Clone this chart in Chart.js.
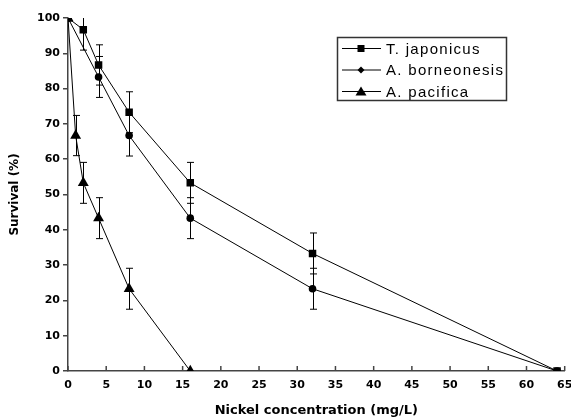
<!DOCTYPE html>
<html>
<head>
<meta charset="utf-8">
<script src="https://cdn.jsdelivr.net/npm/chart.js@4.4.0/dist/chart.umd.min.js"></script>
<style>
  html, body { margin: 0; padding: 0; background: #fff; }
</style>
</head>
<body>
<canvas id="survChart" width="571" height="419"></canvas>
<script>
// values
const concJap = [0, 2, 4, 8, 16, 32, 64];
const survJap = [100, 96.7, 86.7, 73.3, 53.3, 33.3, 0];
const errJap = [0, 5.8, 5.7, 5.8, 5.8, 5.8, 0];

const concBor = [0, 4, 8, 16, 32, 64];
const survBor = [100, 83.3, 66.7, 43.3, 23.3, 0];
const errBor = [0, 5.8, 5.8, 5.8, 5.8, 0];

const concPac = [0, 1, 2, 4, 8, 16];
const survPac = [100, 66.7, 53.3, 43.3, 23.3, 0];
const errPac = [0, 5.7, 5.8, 5.8, 5.8, 0];

const seriesNames = ["T. japonicus", "A. borneonesis", "A. pacifica"];
const errorSets = [errJap, errBor, errPac];
const legendMarks = ["rect", "diamond", "triangle"];

const toPoints = (xs, ys) => xs.map((x, i) => ({ x: x, y: ys[i] }));

const boldFamily = "'DejaVu Sans', Arial, sans-serif";
const tickFont = { family: boldFamily, weight: "bold", size: 11 };
const axisColor = "#444";

// vertical error bars with caps
const errorBars = {
  id: "errorBars",
  afterDatasetsDraw(chart) {
    const { ctx, chartArea, scales } = chart;
    ctx.save();
    ctx.beginPath();
    ctx.rect(chartArea.left, chartArea.top, chartArea.right - chartArea.left, chartArea.bottom - chartArea.top);
    ctx.clip();
    ctx.strokeStyle = "#000";
    ctx.lineWidth = 1;
    chart.data.datasets.forEach((ds, i) => {
      ds.data.forEach((p, j) => {
        const e = errorSets[i][j];
        if (!e) return;
        const px = Math.round(scales.x.getPixelForValue(p.x)) + 0.5;
        const top = scales.y.getPixelForValue(p.y + e);
        const bot = scales.y.getPixelForValue(p.y - e);
        ctx.beginPath();
        ctx.moveTo(px, top); ctx.lineTo(px, bot);
        ctx.moveTo(px - 3.5, top); ctx.lineTo(px + 3.5, top);
        ctx.moveTo(px - 3.5, bot); ctx.lineTo(px + 3.5, bot);
        ctx.stroke();
      });
    });
    ctx.restore();
  }
};

// x ticks point up into the plot
const innerTicks = {
  id: "innerTicks",
  afterDraw(chart) {
    const { ctx, chartArea, scales } = chart;
    ctx.save();
    ctx.strokeStyle = axisColor;
    ctx.lineWidth = 1.5;
    scales.x.ticks.forEach(t => {
      const px = scales.x.getPixelForValue(t.value);
      ctx.beginPath();
      ctx.moveTo(px, chartArea.bottom);
      ctx.lineTo(px, chartArea.bottom - 5);
      ctx.stroke();
    });
    ctx.restore();
  }
};

// boxed legend with line + marker
const boxLegend = {
  id: "boxLegend",
  afterDraw(chart) {
    const ctx = chart.ctx;
    ctx.save();
    ctx.strokeStyle = "#333";
    ctx.lineWidth = 1.5;
    ctx.strokeRect(337.5, 37.5, 169, 63);
    seriesNames.forEach((name, i) => {
      const y = 48.5 + i * 21.5;
      ctx.strokeStyle = "#000";
      ctx.lineWidth = 1;
      ctx.beginPath();
      ctx.moveTo(342, y); ctx.lineTo(381, y);
      ctx.stroke();
      ctx.fillStyle = "#000";
      ctx.beginPath();
      if (legendMarks[i] === "rect") {
        ctx.rect(357.5, y - 3.5, 7, 7);
      } else if (legendMarks[i] === "diamond") {
        ctx.moveTo(361, y - 3.5); ctx.lineTo(364.5, y); ctx.lineTo(361, y + 3.5); ctx.lineTo(357.5, y);
      } else {
        ctx.moveTo(361, y - 5); ctx.lineTo(366.5, y + 4); ctx.lineTo(355.5, y + 4);
      }
      ctx.closePath();
      ctx.fill();
      ctx.font = "15px 'Liberation Sans', Arial, sans-serif";
      ctx.letterSpacing = "1.3px";
      ctx.textBaseline = "middle";
      ctx.fillText(name, 386, y + 1);
    });
    ctx.restore();
  }
};

const lineStyle = {
  showLine: true,
  borderColor: "#000",
  borderWidth: 1,
  pointBackgroundColor: "#000",
  pointBorderColor: "#000",
  pointBorderWidth: 0,
};

new Chart(document.getElementById("survChart").getContext("2d"), {
  type: "scatter",
  data: {
    datasets: [
      { ...lineStyle, label: seriesNames[0], data: toPoints(concJap, survJap), pointStyle: "rect", pointRadius: 5.3 },
      { ...lineStyle, label: seriesNames[1], data: toPoints(concBor, survBor), pointStyle: "circle", pointRadius: 3.8 },
      { ...lineStyle, label: seriesNames[2], data: toPoints(concPac, survPac), pointStyle: "triangle", pointRadius: 6.3 },
    ],
  },
  options: {
    responsive: false,
    animation: false,
    layout: { padding: { top: 18, right: 4, left: 0, bottom: 0 } },
    plugins: {
      legend: { display: false },
      tooltip: { enabled: false },
    },
    scales: {
      x: {
        type: "linear",
        min: 0,
        max: 65,
        ticks: { stepSize: 5, font: tickFont, color: "#000", padding: 8, maxRotation: 0 },
        grid: { drawOnChartArea: false, drawTicks: false },
        border: { color: axisColor, width: 1.5 },
        title: {
          display: true,
          text: "Nickel concentration (mg/L)",
          color: "#000",
          font: { family: boldFamily, weight: "bold", size: 13 },
          padding: { top: 4, bottom: 1 },
        },
        afterFit(scale) {
          scale.height = 48;
          scale.paddingLeft = 0;
          scale.paddingRight = 0;
        },
      },
      y: {
        min: 0,
        max: 100,
        ticks: { stepSize: 10, font: tickFont, color: "#000", padding: 3 },
        grid: { drawOnChartArea: false, tickLength: 5, color: axisColor, lineWidth: 1.5 },
        border: { color: axisColor, width: 1.5 },
        title: {
          display: true,
          text: "Survival (%)",
          color: "#000",
          font: { family: boldFamily, weight: "bold", size: 12 },
          padding: { top: 8, bottom: 0 },
        },
        afterFit(scale) {
          scale.width = 68;
        },
      },
    },
  },
  plugins: [errorBars, innerTicks, boxLegend],
});
</script>
</body>
</html>
